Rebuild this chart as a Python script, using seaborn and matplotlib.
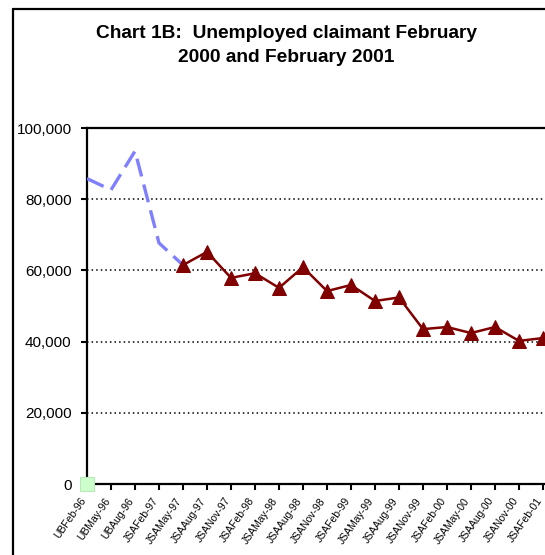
import matplotlib
matplotlib.use("Agg")
import matplotlib.pyplot as plt
import matplotlib.ticker as mticker
from matplotlib.lines import Line2D
import matplotlib.transforms as mtrans
import seaborn as sns
import pandas as pd
import numpy as np

categories = ["UBFeb-96", "UBMay-96", "UBAug-96", "JSAFeb-97", "JSAMay-97",
              "JSAAug-97", "JSANov-97", "JSAFeb-98", "JSAMay-98", "JSAAug-98",
              "JSANov-98", "JSAFeb-99", "JSAMay-99", "JSAAug-99", "JSANov-99",
              "JSAFeb-00", "JSAMay-00", "JSAAug-00", "JSANov-00", "JSAFeb-01"]
ub_values = [85800, 82600, 93500, 67700, 61500]
jsa_values = [61500, 65200, 57900, 59200, 55100, 60900, 54200, 55900,
              51400, 52400, 43500, 44100, 42400, 44100, 40200, 41000]
base_values = [0]
yticks = [0, 20000, 40000, 60000, 80000, 100000]

sns.set_theme(style="white")
plt.rcParams["font.family"] = ["Liberation Sans", "DejaVu Sans"]
plt.rcParams["text.color"] = "black"
plt.rcParams["xtick.color"] = "black"
plt.rcParams["ytick.color"] = "black"

W, H = 545, 555
fig = plt.figure(figsize=(W / 100, H / 100), dpi=100)
ax_left, ax_right = 87, 555
ax_top, ax_bot = 128, 484
ax = fig.add_axes([ax_left / W, (H - ax_bot) / H, (ax_right - ax_left) / W, (ax_bot - ax_top) / H])

df_ub = pd.DataFrame({"cat": categories[:len(ub_values)], "x": np.arange(len(ub_values)), "value": ub_values})
df_jsa = pd.DataFrame({"cat": categories[4:4 + len(jsa_values)], "x": np.arange(4, 4 + len(jsa_values)), "value": jsa_values})
df_base = pd.DataFrame({"x": np.arange(len(base_values)), "value": base_values})

for yv in yticks[1:]:
    ax.axhline(yv, color="black", linewidth=1.1, linestyle=(0, (1, 2)), zorder=1)

sns.lineplot(data=df_ub, x="x", y="value", ax=ax, color="#8080ff", linewidth=2.4,
             linestyle=(0, (5.5, 2.5)), zorder=3)
sns.lineplot(data=df_jsa, x="x", y="value", ax=ax, color="#800000", linewidth=1.8,
             marker="^", markersize=10.5, markeredgecolor="#800000",
             markerfacecolor="#800000", zorder=4)
sns.scatterplot(data=df_base, x="x", y="value", ax=ax, marker="s", s=95,
                color="#ccffcc", edgecolor="#b8eab8", linewidth=0.8, zorder=6, clip_on=False)

ax.set_xlim(0, (ax_right - ax_left) / 24.0)
ax.set_ylim(0, 100000)
ax.set_yticks(yticks)
ax.yaxis.set_major_formatter(mticker.FuncFormatter(lambda v, p: f"{int(v):,}"))
ax.set_xticks(np.arange(len(categories)))
ax.set_xlabel("")
ax.set_ylabel("")
ax.tick_params(axis="y", direction="out", length=4, width=1.5, pad=7, labelsize=11, colors="black")
ax.tick_params(axis="x", direction="out", length=4, width=1.5, pad=3, colors="black")
ax.tick_params(axis="both", which="both", left=True, bottom=True)
ax.set_xticklabels(categories, rotation=55, ha="right", va="center",
                   rotation_mode="anchor", fontsize=7.5)
offset = mtrans.ScaledTranslation(-3 / 100, -5 / 100, fig.dpi_scale_trans)
for lab in ax.get_xticklabels():
    lab.set_transform(lab.get_transform() + offset)
for side in ["left", "bottom", "top"]:
    ax.spines[side].set_color("black")
    ax.spines[side].set_linewidth(1.6)
ax.spines["right"].set_visible(False)
ax.grid(False)

fig.text(286 / W, 1 - 33 / H, "Chart 1B:  Unemployed claimant February",
         ha="center", va="center", fontsize=13.8, fontweight="bold", color="black")
fig.text(286 / W, 1 - 58 / H, "2000 and February 2001",
         ha="center", va="center", fontsize=13.8, fontweight="bold", color="black")

bx, by = 12.5 / W, 1 - 9 / H
fig.add_artist(Line2D([bx, bx], [by, -0.01], transform=fig.transFigure, color="black", linewidth=1.6))
fig.add_artist(Line2D([bx, 1.01], [by, by], transform=fig.transFigure, color="black", linewidth=1.6))

fig.savefig("out.png", dpi=100)
